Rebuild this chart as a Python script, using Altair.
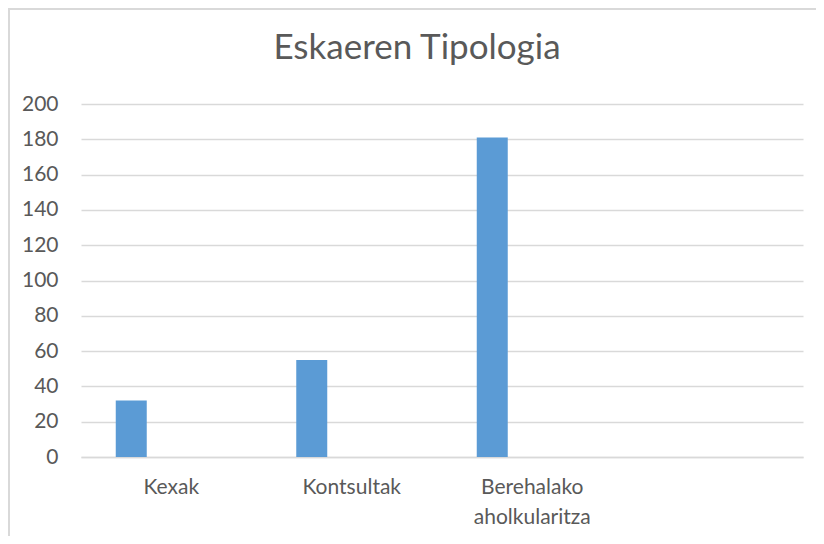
import altair as alt
import pandas as pd

categories = ["Kexak", "Kontsultak", "Berehalako aholkularitza"]
values = [32, 55, 181]
domain = categories + [" "]
y_ticks = [0, 20, 40, 60, 80, 100, 120, 140, 160, 180, 200]
title_text = "Eskaeren Tipologia"

df = pd.DataFrame({"cat": categories, "val": values})

text_color = "#595959"
grid_color = "#D9D9D9"
font = "Lato"

bars = alt.Chart(df).mark_bar(width=31, xOffset=-40, color="#5B9BD5").encode(
    x=alt.X("cat:N", sort=domain,
            scale=alt.Scale(domain=domain, paddingInner=0, paddingOuter=0),
            axis=alt.Axis(title=None, labelAngle=0, ticks=False, domain=True,
                          domainColor=grid_color, domainWidth=1.5,
                          labelExpr="split(datum.label, ' ')",
                          labelLineHeight=30, labelPadding=19,
                          labelFontSize=21, labelColor=text_color, labelFont=font)),
    y=alt.Y("val:Q", scale=alt.Scale(domain=[0, 200], nice=False),
            axis=alt.Axis(title=None, values=y_ticks, ticks=False, domain=False,
                          gridColor=grid_color, gridWidth=1.5, labelPadding=23,
                          labelFontSize=21, labelColor=text_color, labelFont=font)),
)

one = pd.DataFrame({"t": [title_text]})

frame_top = alt.Chart(one).mark_rule(color=grid_color, strokeWidth=2).encode(
    x=alt.value(-73), x2=alt.value(735), y=alt.value(-95))
frame_left = alt.Chart(one).mark_rule(color=grid_color, strokeWidth=2).encode(
    x=alt.value(-72), y=alt.value(-96), y2=alt.value(432))

title = alt.Chart(one).mark_text(
    font=font, fontSize=35, color=text_color, align="center", baseline="middle"
).encode(text="t:N", x=alt.value(336), y=alt.value(-56))

chart = alt.layer(frame_top, frame_left, bars, title).properties(
    width=722, height=353,
    padding={"left": 73, "top": 96, "right": 13, "bottom": 79},
    autosize=alt.AutoSizeParams(type="none"),
).configure_view(stroke=None)

chart.save("out.html", embed_options={"renderer": "svg", "actions": False})
